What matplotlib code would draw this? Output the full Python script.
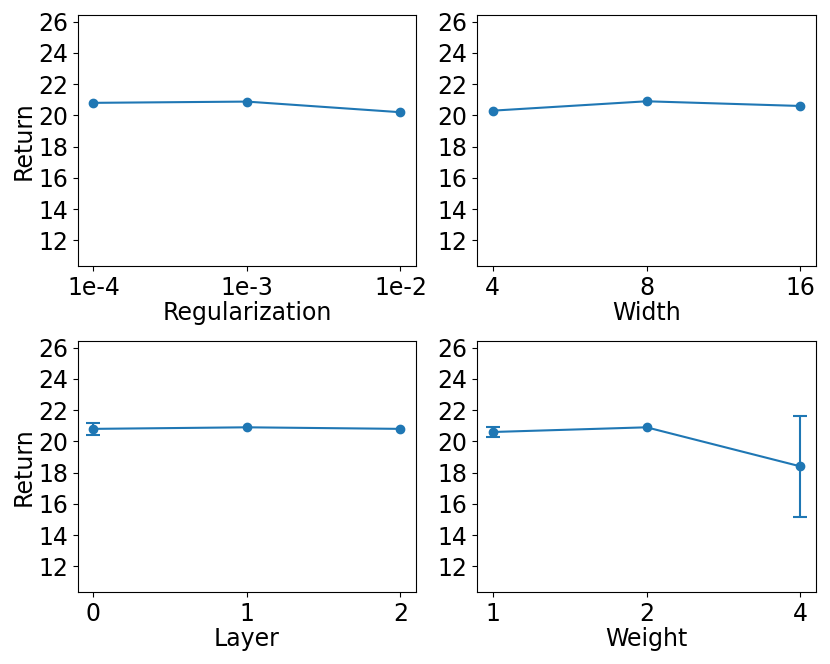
import matplotlib
matplotlib.use('Agg')
import matplotlib.pyplot as plt
import numpy as np

# values (nan = no visible error bar)
reg_labels = ['1e-4', '1e-3', '1e-2']
reg_mean = [20.8, 20.88, 20.2]
reg_err = [np.nan, np.nan, np.nan]

width_labels = ['4', '8', '16']
width_mean = [20.3, 20.9, 20.6]
width_err = [np.nan, np.nan, np.nan]

layer_labels = ['0', '1', '2']
layer_mean = [20.8, 20.9, 20.8]
layer_err = [0.38, np.nan, np.nan]

weight_labels = ['1', '2', '4']
weight_mean = [20.6, 20.9, 18.4]
weight_err = [0.3, np.nan, 3.22]

plt.rcParams['font.size'] = 17

fig = plt.figure(figsize=(8.3, 6.64), dpi=100)
panels = [
   ([0.094, 0.599, 0.407, 0.378], reg_labels, reg_mean, reg_err, 'Regularization', True),
   ([0.575, 0.599, 0.408, 0.378], width_labels, width_mean, width_err, 'Width', False),
   ([0.094, 0.108, 0.407, 0.378], layer_labels, layer_mean, layer_err, 'Layer', True),
   ([0.575, 0.108, 0.408, 0.378], weight_labels, weight_mean, weight_err, 'Weight', False),
]

for rect, labels, mean, err, xlabel, ylab in panels:
   ax = fig.add_axes(rect)
   x = np.arange(len(labels))
   ax.errorbar(x, mean, yerr=np.array(err), fmt='-o', color='C0', markersize=6,
               linewidth=1.5, capsize=5, elinewidth=1.5, capthick=1.5)
   ax.set_xticks(x)
   ax.set_xticklabels(labels)
   ax.set_xlim(-0.1, 2.1)
   ax.set_yticks([12, 14, 16, 18, 20, 22, 24, 26])
   ax.set_ylim(10.35, 26.4)
   ax.set_xlabel(xlabel, labelpad=1)
   if ylab:
      ax.set_ylabel('Return', labelpad=2)

plt.savefig('out.png', dpi=100)
